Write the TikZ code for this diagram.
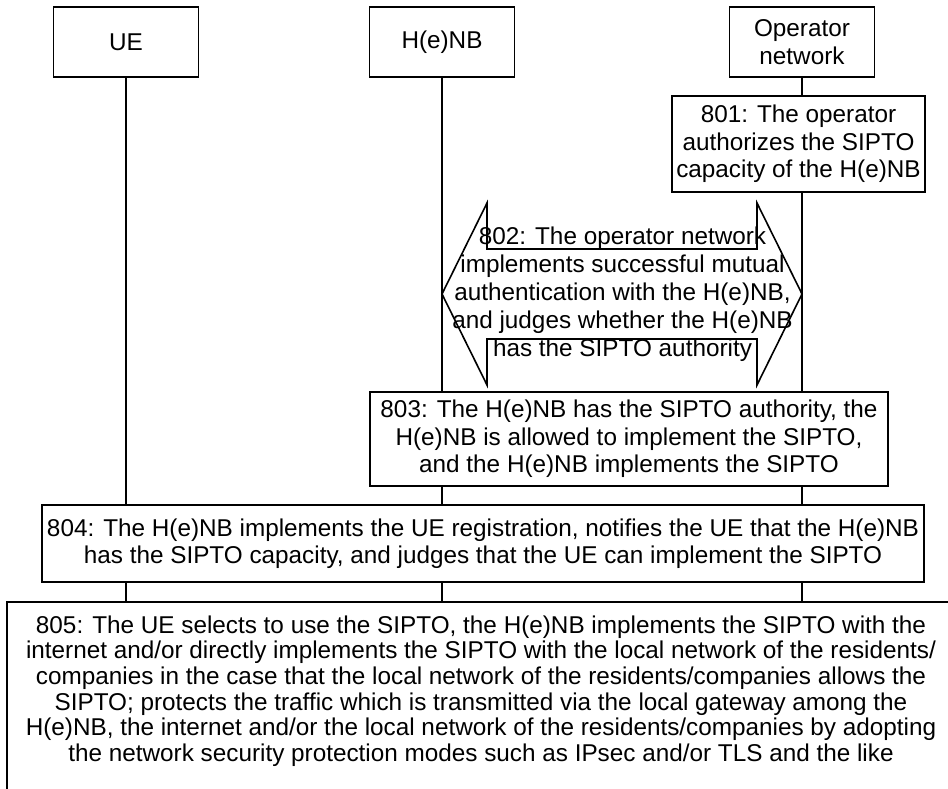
\documentclass[tikz,border=0pt]{standalone}
\usepackage{fontspec}
\setmainfont{Liberation Sans}
\begin{document}
\begin{tikzpicture}[x=1pt, y=-1pt,
  every node/.style={inner sep=0pt},
  txt/.style={align=center, font=\fontsize{24.3}{27.5}\selectfont},
  lane/.style={txt, draw, line width=1.6pt, minimum width=145pt, minimum height=70pt},
  stepbox/.style={txt, draw, line width=1.6pt},
  stepline/.style={line width=1.6pt},
  life/.style={line width=1.6pt}]
\clip (0,0) rectangle (948,788);

% participants
\node[lane] (ue)  at (126,42) {UE};
\node[lane] (hnb) at (442,42) {H(e)NB};
\node[lane] (op)  at (802,42) {Operator\\network};

% 801
\node[stepbox, minimum width=253pt, minimum height=96pt] (s801) at (798.5,144)
  {801: The operator\\authorizes the SIPTO\\capacity of the H(e)NB};

% 802: double-headed block arrow between H(e)NB and operator network
\coordinate (c802) at (622.5,294);
\node[txt, font=\fontsize{24.3}{28}\selectfont] (t802) at (c802)
  {802: The operator network\\implements successful mutual\\authentication with the H(e)NB,\\and judges whether the H(e)NB\\has the SIPTO authority};
\draw[stepline, line join=miter] (hnb |- c802) -- ++(45,-91) -- ++(0,46) -- ++(270,0) -- ++(0,-46)
  -- (op |- c802) -- ++(-45,91) -- ++(0,-46) -- ++(-270,0) -- ++(0,46) -- cycle;

% 803
\node[stepbox, minimum width=518pt, minimum height=94pt] (s803) at (629,439)
  {803: The H(e)NB has the SIPTO authority, the\\H(e)NB is allowed to implement the SIPTO,\\and the H(e)NB implements the SIPTO};

% 804
\node[stepbox, font=\fontsize{24.3}{27}\selectfont, minimum width=882pt, minimum height=77pt] (s804) at (483,543.5)
  {804: The H(e)NB implements the UE registration, notifies the UE that the H(e)NB\\has the SIPTO capacity, and judges that the UE can implement the SIPTO};

% 805 (box runs past the right and bottom edges)
\coordinate (c805) at (7,602);
\node[txt, font=\fontsize{24.3}{25.7}\selectfont] (t805) at (481,691)
  {805: The UE selects to use the SIPTO, the H(e)NB implements the SIPTO with the\\
   internet and/or directly implements the SIPTO with the local network of the residents/\\
   companies in the case that the local network of the residents/companies allows the\\
   SIPTO; protects the traffic which is transmitted via the local gateway among the\\
   H(e)NB, the internet and/or the local network of the residents/companies by adopting\\
   the network security protection modes such as IPsec and/or TLS and the like};
\draw[stepline] (c805 |- 0,800) -- (c805) -- (960,602);

% lifelines
\draw[life] (ue.south) -- (ue |- s804.north);
\draw[life] (ue |- s804.south) -- (ue |- c805);
\draw[life] (hnb.south) -- (hnb |- s803.north);
\draw[life] (hnb |- s803.south) -- (hnb |- s804.north);
\draw[life] (hnb |- s804.south) -- (hnb |- c805);
\draw[life] (op.south) -- (op |- s801.north);
\draw[life] (op |- s801.south) -- (op |- s803.north);
\draw[life] (op |- s803.south) -- (op |- s804.north);
\draw[life] (op |- s804.south) -- (op |- c805);
\end{tikzpicture}
\end{document}
